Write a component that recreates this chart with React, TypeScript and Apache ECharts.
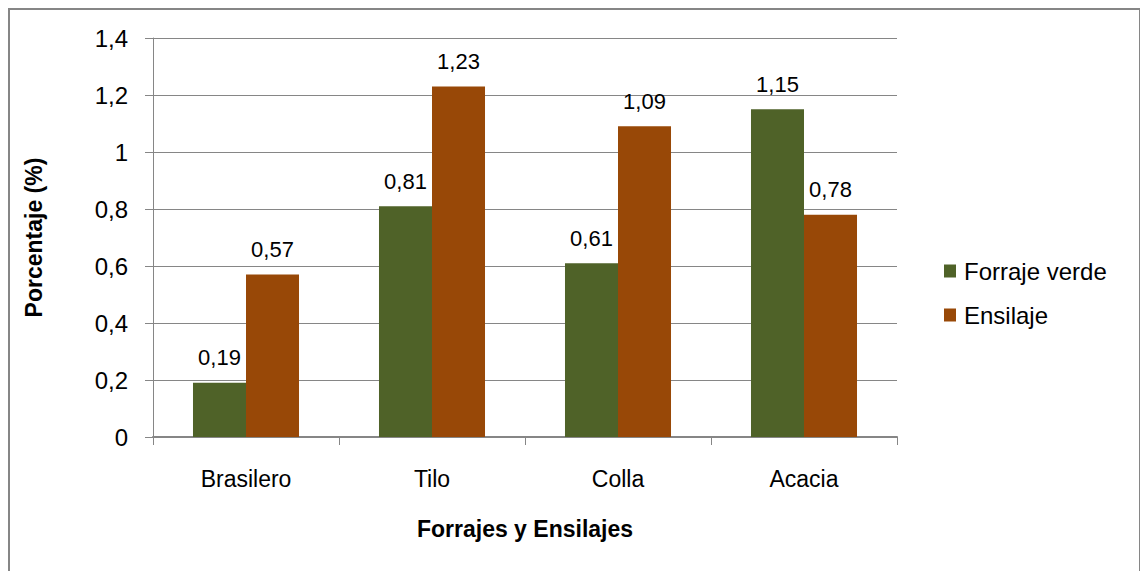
import React, { useEffect, useRef } from "react";
import * as echarts from "echarts";

const categories = ["Brasilero", "Tilo", "Colla", "Acacia"];
const forrajeVerde = [0.19, 0.81, 0.61, 1.15];
const ensilaje = [0.57, 1.23, 1.09, 0.78];
const seriesNames = ["Forraje verde", "Ensilaje"];

const FONT = "'Liberation Sans', Arial, sans-serif";
const fmt = (v: number) => String(v).replace(".", ",");

export default function App() {
  const ref = useRef<HTMLDivElement>(null);
  useEffect(() => {
    if (!ref.current) return;
    const chart = echarts.init(ref.current, null, { renderer: "svg" });
    const labelCfg = {
      show: true,
      position: "top",
      distance: 14,
      color: "#000",
      fontSize: 22,
      fontFamily: FONT,
      formatter: (p: any) => fmt(p.value),
    };
    chart.setOption({
      animation: false,
      backgroundColor: "#fff",
      textStyle: { fontFamily: FONT },
      graphic: [
        {
          type: "rect",
          shape: { x: 9, y: 9, width: 1131, height: 600 },
          style: { fill: "none", stroke: "#868686", lineWidth: 2 },
          silent: true,
        },
      ],
      grid: { left: 153, right: 243, top: 38, bottom: 134 },
      legend: {
        orient: "vertical",
        left: 939,
        top: 254,
        itemWidth: 12,
        itemHeight: 13,
        itemGap: 20,
        icon: "rect",
        data: seriesNames,
        textStyle: { fontSize: 24, color: "#000", fontFamily: FONT, padding: [0, 0, 0, 3] },
      },
      xAxis: {
        type: "category",
        data: categories,
        name: "Forrajes y Ensilajes",
        nameLocation: "middle",
        nameGap: 80,
        nameTextStyle: { fontSize: 23, fontWeight: "bold", color: "#000", fontFamily: FONT },
        axisLine: { lineStyle: { color: "#868686", width: 2 } },
        axisTick: { show: true, length: 8, alignWithLabel: false, lineStyle: { color: "#868686", width: 1 } },
        axisLabel: { fontSize: 23, color: "#000", margin: 30, fontFamily: FONT },
      },
      yAxis: {
        type: "value",
        min: 0,
        max: 1.4,
        interval: 0.2,
        name: "Porcentaje (%)",
        nameLocation: "middle",
        nameGap: 108,
        nameRotate: 90,
        nameTextStyle: { fontSize: 23, fontWeight: "bold", color: "#000", fontFamily: FONT },
        axisLine: { show: true, lineStyle: { color: "#868686", width: 1 } },
        axisTick: { show: true, length: 8, lineStyle: { color: "#868686" } },
        axisLabel: {
          fontSize: 24,
          color: "#000",
          margin: 25,
          fontFamily: FONT,
          formatter: (v: number) => fmt(Math.round(v * 10) / 10),
        },
        splitLine: { lineStyle: { color: "#868686", width: 1 } },
      },
      series: [
        {
          name: seriesNames[0],
          type: "bar",
          data: forrajeVerde,
          barWidth: "28.5%",
          barGap: "0%",
          itemStyle: { color: "#4F6228" },
          label: labelCfg,
        },
        {
          name: seriesNames[1],
          type: "bar",
          data: ensilaje,
          barWidth: "28.5%",
          barGap: "0%",
          itemStyle: { color: "#984807" },
          label: labelCfg,
        },
      ],
    });
    return () => chart.dispose();
  }, []);
  return (
    <div
      ref={ref}
      style={{ position: "fixed", left: 0, top: 0, width: 1140, height: 571 }}
    />
  );
}
